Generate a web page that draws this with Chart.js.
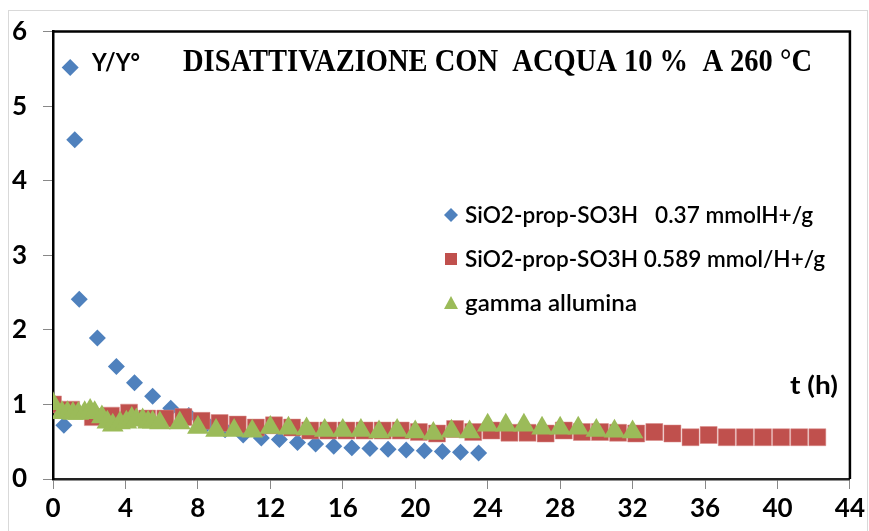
<!DOCTYPE html>
<html>
<head>
<meta charset="utf-8">
<script src="https://cdn.jsdelivr.net/npm/chart.js@4/dist/chart.umd.min.js"></script>
<style>
  html, body { margin: 0; padding: 0; background: #fff; }
  #wrap { width: 869px; height: 531px; position: relative; }
</style>
</head>
<body>
<div id="wrap"><canvas id="c" width="869" height="531"></canvas></div>
<script>
// ---- data ----
const seriesNames = [
  "SiO2-prop-SO3H   0.37 mmolH+/g",
  "SiO2-prop-SO3H 0.589 mmol/H+/g",
  "gamma allumina"
];
const titleText = "DISATTIVAZIONE CON  ACQUA 10 %  A 260 \u00B0C";
const yLabelText = "Y/Y\u00B0";
const xLabelText = "t (h)";

const xTicks = [0, 4, 8, 12, 16, 20, 24, 28, 32, 36, 40, 44];
const yTicks = [0, 1, 2, 3, 4, 5, 6];

// SiO2-prop-SO3H 0.37 mmolH+/g (blue diamonds)
const blueT = [0, 0.6, 1.2, 1.45, 2.45, 3.5, 4.5, 5.5, 6.5, 7.5, 8.5, 9.5, 10.5, 11.5, 12.5, 13.5, 14.5, 15.5, 16.5, 17.5, 18.5, 19.5, 20.5, 21.5, 22.5, 23.5];
const blueY = [1.03, 0.72, 4.55, 2.41, 1.89, 1.51, 1.29, 1.11, 0.95, 0.85, 0.74, 0.66, 0.59, 0.55, 0.53, 0.49, 0.47, 0.44, 0.42, 0.41, 0.40, 0.39, 0.38, 0.37, 0.36, 0.35];

// marker beside the "Y/Y°" label
const markerT = [0.95];
const markerY = [5.52];

// SiO2-prop-SO3H 0.589 mmol/H+/g (red squares)
const redT = [0, 1.0, 2.2, 3.2, 4.2, 5.2, 6.2, 7.2, 8.2, 9.2, 10.2, 11.2, 12.2, 13.2, 14.2, 15.2, 16.2, 17.2, 18.2, 19.2, 20.2, 21.2, 22.2, 23.2, 24.2, 25.2, 26.2, 27.2, 28.2, 29.2, 30.2, 31.2, 32.2, 33.2, 34.2, 35.2, 36.2, 37.2, 38.2, 39.2, 40.2, 41.2, 42.2];
const redY = [1.0, 0.93, 0.83, 0.85, 0.89, 0.81, 0.81, 0.83, 0.78, 0.75, 0.73, 0.69, 0.72, 0.69, 0.65, 0.65, 0.65, 0.65, 0.65, 0.65, 0.63, 0.61, 0.67, 0.63, 0.65, 0.62, 0.62, 0.61, 0.65, 0.63, 0.63, 0.62, 0.61, 0.63, 0.61, 0.56, 0.59, 0.56, 0.56, 0.56, 0.56, 0.56, 0.56];

// gamma allumina (green triangles)
const greenT = [0, 0.5, 0.8, 1.1, 1.4, 1.75, 2.05, 2.3, 2.7, 3.0, 3.3, 3.7, 4.05, 4.35, 4.6, 4.95, 5.25, 5.5, 5.9, 7, 8, 9, 10, 11, 12, 13, 14, 15, 16, 17, 18, 19, 20, 21, 22, 23, 24, 25, 26, 27, 28, 29, 30, 31, 32];
const greenY = [1.01, 0.89, 0.89, 0.88, 0.88, 0.89, 0.92, 0.89, 0.83, 0.76, 0.72, 0.75, 0.76, 0.81, 0.79, 0.79, 0.76, 0.76, 0.75, 0.75, 0.69, 0.65, 0.65, 0.64, 0.69, 0.68, 0.67, 0.65, 0.65, 0.65, 0.63, 0.65, 0.63, 0.61, 0.64, 0.63, 0.72, 0.72, 0.72, 0.68, 0.68, 0.68, 0.65, 0.64, 0.63];

const colors = ["#4F81BD", "#C0504D", "#9BBB59"];

const pts = (xs, ys) => xs.map((x, i) => ({ x: x, y: ys[i] }));

function fitText(ctx, text, x, y, targetW, font) {
  ctx.font = font;
  const w = ctx.measureText(text).width;
  ctx.save();
  ctx.translate(x, y);
  ctx.scale(targetW / w, 1);
  ctx.fillText(text, 0, 0);
  ctx.restore();
}

const overlay = {
  id: 'overlay',
  beforeDraw(chart) {
    const ctx = chart.ctx;
    ctx.save();
    ctx.fillStyle = '#fff';
    ctx.fillRect(0, 0, chart.width, chart.height);
    ctx.strokeStyle = '#d9d9d9';
    ctx.lineWidth = 1;
    ctx.strokeRect(8.5, 10.5, 859, 560);
    ctx.restore();
  },
  afterDraw(chart) {
    const ctx = chart.ctx;
    const a = chart.chartArea;
    ctx.save();
    // frame top and right
    ctx.strokeStyle = '#000';
    ctx.lineWidth = 2.5;
    ctx.beginPath();
    ctx.moveTo(a.left, a.top);
    ctx.lineTo(a.right, a.top);
    ctx.lineTo(a.right, a.bottom);
    ctx.stroke();

    ctx.fillStyle = '#000';
    ctx.textBaseline = 'middle';
    ctx.textAlign = 'left';
    // title
    fitText(ctx, titleText, 183, 63, 629, 'bold 31px "Liberation Serif"');

    // Y/Y° and t (h)
    fitText(ctx, yLabelText, 92, 63, 48, 'bold 24px Lato');
    fitText(ctx, xLabelText, 790, 386, 48, 'bold 25px Lato');

    // legend
    const lx = 451, rows = [215, 259, 303];
    const widths = [348, 360, 172];
    rows.forEach((y, i) => {
      ctx.fillStyle = colors[i];
      ctx.beginPath();
      if (i === 0) {
        ctx.moveTo(lx, y - 7); ctx.lineTo(lx + 7, y); ctx.lineTo(lx, y + 7); ctx.lineTo(lx - 7, y);
      } else if (i === 1) {
        ctx.rect(lx - 6, y - 6, 12, 12);
      } else {
        ctx.moveTo(lx, y - 7); ctx.lineTo(lx + 7, y + 6); ctx.lineTo(lx - 7, y + 6);
      }
      ctx.closePath();
      ctx.fill();
      ctx.fillStyle = '#000';
      fitText(ctx, seriesNames[i], 465, y + 1, widths[i], '600 22px Lato');
    });
    ctx.restore();
  }
};

new Chart(document.getElementById('c'), {
  type: 'scatter',
  data: {
    datasets: [
      { label: seriesNames[0], data: pts(blueT, blueY), pointStyle: 'rectRot', pointRadius: 8.5, backgroundColor: colors[0], borderColor: colors[0], borderWidth: 0, order: 3 },
      { label: yLabelText, data: pts(markerT, markerY), pointStyle: 'rectRot', pointRadius: 8.5, backgroundColor: colors[0], borderColor: colors[0], borderWidth: 0, order: 3 },
      { label: seriesNames[1], data: pts(redT, redY), pointStyle: 'rect', pointRadius: 12, backgroundColor: colors[1], borderColor: '#d98a88', borderWidth: 0.5, order: 2 },
      { label: seriesNames[2], data: pts(greenT, greenY), pointStyle: 'triangle', pointRadius: 12.5, backgroundColor: colors[2], borderColor: colors[2], borderWidth: 0, order: 1 }
    ]
  },
  options: {
    responsive: false,
    animation: false,
    layout: { padding: { top: 28, right: 17, left: 0, bottom: 0 } },
    plugins: { legend: { display: false }, tooltip: { enabled: false }, title: { display: false } },
    scales: {
      x: {
        type: 'linear', min: 0, max: 44,
        afterBuildTicks: (s) => { s.ticks = xTicks.map(v => ({ value: v })); },
        afterFit: (s) => { s.height = 52; },
        grid: { display: true, drawOnChartArea: false, drawTicks: true, tickLength: 10, color: '#888', lineWidth: 1 },
        border: { display: true, color: '#222', width: 2.5 },
        ticks: { color: '#000', font: { family: 'Lato', weight: 'bold', size: 26 }, padding: 4, maxRotation: 0 }
      },
      y: {
        type: 'linear', min: 0, max: 6,
        afterBuildTicks: (s) => { s.ticks = yTicks.map(v => ({ value: v })); },
        afterFit: (s) => { s.width = 53; },
        grid: { display: true, drawOnChartArea: false, drawTicks: true, tickLength: 10, color: '#888', lineWidth: 1 },
        border: { display: true, color: '#000', width: 2.5 },
        ticks: { color: '#000', font: { family: 'Lato', weight: 'bold', size: 26 }, padding: 16 }
      }
    }
  },
  plugins: [overlay]
});
</script>
</body>
</html>
